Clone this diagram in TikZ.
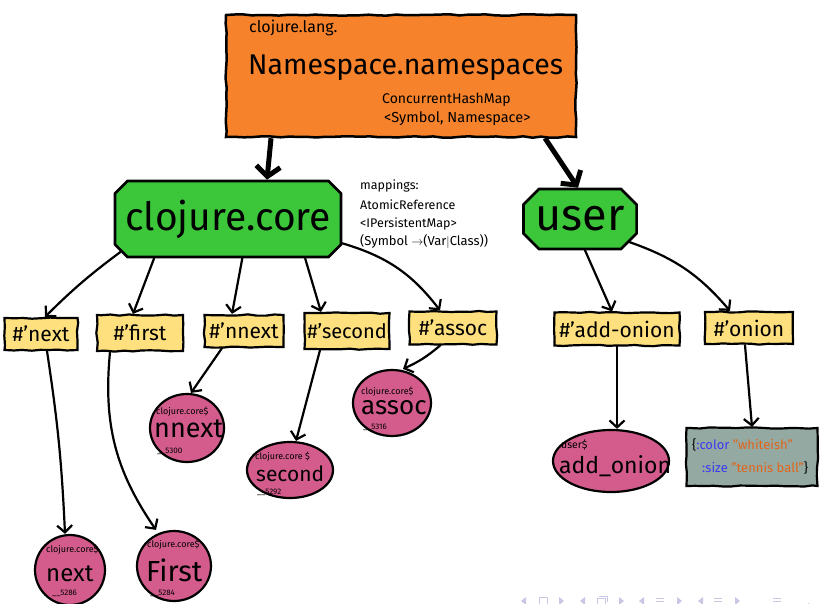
\documentclass[tikz,border=0pt]{standalone}
\usepackage{fontspec}
\setmainfont{Fira Sans}
\usetikzlibrary{arrows.meta,shapes.misc,shapes.geometric,decorations.pathmorphing}
\definecolor{nsorange}{HTML}{F6822B}
\definecolor{nsgreen}{HTML}{3CC63A}
\definecolor{varyellow}{HTML}{FFE07E}
\definecolor{fnpink}{HTML}{D45C8C}
\definecolor{mapgrey}{HTML}{93A9A2}
\definecolor{kwblue}{HTML}{3B3BF0}
\definecolor{strorange}{HTML}{E2661A}
\definecolor{navcol}{HTML}{C8C8E6}
\newcommand\myfs[1]{\fontsize{#1}{#1}\selectfont}
\begin{document}
\pgfmathsetseed{7}
\begin{tikzpicture}[x=1pt,y=-1pt,
  rough/.style={decorate,decoration={random steps,segment length=9pt,amplitude=0.7pt}},
  nsbox/.style={draw,line width=2.5pt,fill=nsorange,rough,inner sep=0pt},
  greenbox/.style={chamfered rectangle,chamfered rectangle xsep=16pt,draw,line width=2.6pt,fill=nsgreen,inner sep=0pt},
  varbox/.style={rectangle,draw,line width=2.2pt,fill=varyellow,inner sep=0pt,rough},
  fnblob/.style={ellipse,draw,line width=2.2pt,fill=fnpink,inner sep=0pt},
  mapbox/.style={rectangle,draw,line width=2.2pt,fill=mapgrey,inner sep=0pt,rough},
  edge/.style={line width=2.2pt,line cap=round,-{Straight Barb[length=7pt,width=15pt]}},
  bigedge/.style={line width=5pt,-{Straight Barb[length=10pt,width=24pt]}},
  lbl/.style={inner sep=0pt,anchor=west},
  navtri/.style={fill=navcol,draw=none}
]
\useasboundingbox (0,0) rectangle (824,604);

% namespaces box
\node[nsbox,minimum width=350pt,minimum height=122pt] (ns) at (401,76) {};
\node[lbl] (nslang) at (249,28) {\myfs{16}clojure.lang.};
\node[lbl] (nsname) at (248,68) {\myfs{28.5}Namespace.namespaces};
\node[lbl] (nschm) at (382,100) {\myfs{14}ConcurrentHashMap};
\node[lbl] (nssig) at (384,119) {\myfs{14.5}<Symbol, Namespace>};

% namespaces
\node[greenbox,chamfered rectangle xsep=9pt,minimum width=226pt,minimum height=76pt] (core) at (228,219) {\myfs{39}clojure.core};
\node[greenbox,chamfered rectangle xsep=12pt,minimum width=110pt,minimum height=60pt] (user) at (580,219) {\myfs{45}user};

% mappings note
\node[lbl] (map1) at (360,186) {\myfs{12.5}mappings:};
\node[lbl] (map2) at (360,205) {\myfs{12.5}AtomicReference};
\node[lbl] (map3) at (360,224) {\myfs{12.5}<IPersistentMap>};
\node[lbl] (map4) at (360,242) {\myfs{13}(Symbol $\rightarrow$(Var$|$Class))};

\draw[bigedge] ([xshift=-130pt]ns.south) -- ([xshift=39pt]core.north);
\draw[bigedge] ([xshift=144pt]ns.south) -- ([xshift=-2pt]user.north);

% vars
\node[varbox,minimum width=73pt,minimum height=32pt] (vnext) at (41,334) {\myfs{21}\#'next};
\node[varbox,minimum width=86pt,minimum height=36pt] (vfirst) at (140,333) {\myfs{21}\#'first};
\node[varbox,minimum width=79pt,minimum height=32pt] (vnnext) at (244,331) {\myfs{21}\#'nnext};
\node[varbox,minimum width=85pt,minimum height=36pt] (vsecond) at (347,331) {\myfs{20}\#'second};
\node[varbox,minimum width=87pt,minimum height=33pt] (vassoc) at (453,328) {\myfs{21}\#'assoc};
\node[varbox,minimum width=125pt,minimum height=33pt] (vadd) at (617,329) {\myfs{21}\#'add-onion};
\node[varbox,minimum width=88pt,minimum height=32pt] (vonion) at (749,328) {\myfs{21}\#'onion};

% functions
\node[fnblob,minimum width=70pt,minimum height=70pt] (bnext) at (70,570) {};
\node[fnblob,minimum width=74pt,minimum height=70pt] (bfirst) at (174,566) {};
\node[fnblob,minimum width=74pt,minimum height=68pt] (bnnext) at (187,428) {};
\node[fnblob,minimum width=86pt,minimum height=56pt] (bsecond) at (290,470) {};
\node[fnblob,minimum width=78pt,minimum height=66pt] (bassoc) at (392,403) {};
\node[fnblob,minimum width=116pt,minimum height=62pt] (badd) at (611,461) {};

\node[lbl] (tnext1) at (46,550) {\myfs{9}clojure.core\$};
\node[lbl] (tnext2) at (46,574) {\myfs{24}next};
\node[lbl] (tnext3) at (52,593) {\myfs{8}\_\_5286};
\node[lbl] (tfirst1) at (147,545) {\myfs{9}clojure.core\$};
\node[lbl] (tfirst2) at (146,570) {\myfs{29}First};
\node[lbl] (tfirst3) at (150,593) {\myfs{8}\_\_5284};
\node[lbl] (tnnext1) at (156,412) {\myfs{9}clojure.core\$};
\node[lbl] (tnnext2) at (154,429) {\myfs{27}nnext};
\node[lbl] (tnnext3) at (157,451) {\myfs{8}\_\_5300};
\node[lbl] (tsecond1) at (255,457) {\myfs{9}clojure.core \$};
\node[lbl] (tsecond2) at (256,474) {\myfs{21}second};
\node[lbl] (tsecond3) at (257,492) {\myfs{8}\_\_5292};
\node[lbl] (tassoc1) at (361,392) {\myfs{9}clojure.core\$};
\node[lbl] (tassoc2) at (361,408) {\myfs{26}assoc};
\node[lbl] (tassoc3) at (363,427) {\myfs{8}\_\_5316};
\node[lbl] (tadd1) at (561,445) {\myfs{10.5}user\$};
\node[lbl] (tadd2) at (559,466) {\myfs{23}add\_onion};

% map value
\node[mapbox,minimum width=131pt,minimum height=58pt] (mapv) at (752,457) {};
\node[lbl] (mapl1) at (692,445) {\myfs{13}\{\textcolor{kwblue}{:color} \textcolor{strorange}{"whiteish"}};
\node[lbl] (mapl2) at (702,468) {\myfs{13}\textcolor{kwblue}{:size} \textcolor{strorange}{"tennis ball"}\}};

% connectors
\draw[edge] (core.197) to[bend right=4] ([xshift=4pt]vnext.north);
\draw[edge] (core.208) -- ([xshift=-7pt]vfirst.north);
\draw[edge] (core.-70) -- ([xshift=-12pt]vnnext.north);
\draw[edge] (core.-27) -- ([xshift=-26pt]vsecond.north);
\draw[edge] (core.-12) to[bend left=18] ([xshift=-13pt]vassoc.north);
\draw[edge] ([xshift=5pt]user.south) -- ([xshift=-5pt]vadd.north);
\draw[edge] (user.-25) to[bend left=15] ([xshift=-19pt]vonion.north);

\draw[edge] ([xshift=6pt]vnext.south) to[bend left=3] ([xshift=-5pt]bnext.north);
\draw[edge] ([xshift=-30pt]vfirst.south) to[bend right=20] ([xshift=-18pt]bfirst.north);
\draw[edge] ([xshift=-22pt]vnnext.south) -- ([xshift=4pt]bnnext.north);
\draw[edge] ([xshift=-27pt]vsecond.south) -- ([xshift=6pt]bsecond.north);
\draw[edge] ([xshift=-13pt]vassoc.south) to[bend left=8] ([xshift=11pt]bassoc.north);
\draw[edge] (vadd.south) -- ([xshift=6pt]badd.north);
\draw[edge] ([xshift=-4pt]vonion.south) -- (mapv.north);

% navigation symbols
\foreach \xx in {523,582,641,700} \fill[navtri] (\xx+3,597) -- (\xx-2,601) -- (\xx+3,605) -- cycle;
\foreach \xx in {562,622,680,738} \fill[navtri] (\xx-3,597) -- (\xx+2,601) -- (\xx-3,605) -- cycle;
\draw[navcol,line width=0.8pt] (539,597) rectangle (547,604);
\draw[navcol,line width=0.8pt] (597,598) rectangle (605,604) (599,596) -- (607,596) -- (607,602);
\foreach \xx in {660,718,777} \draw[navcol,line width=0.8pt] (\xx-4,598) -- (\xx+4,598) (\xx-4,601) -- (\xx+4,601) (\xx-4,604) -- (\xx+4,604);
\draw[navcol,line width=0.8pt] (808,603) arc[start angle=180,end angle=60,radius=4];
\end{tikzpicture}
\end{document}
